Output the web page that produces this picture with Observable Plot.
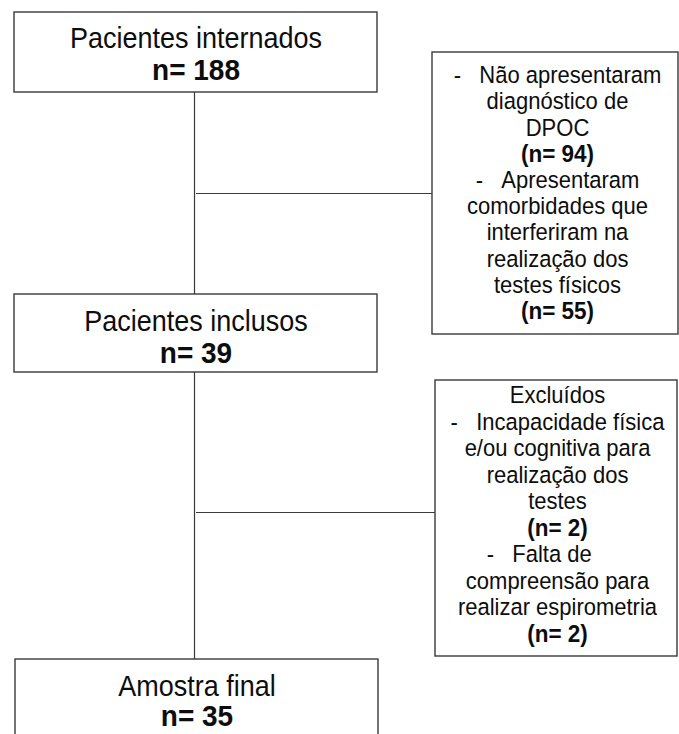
<!DOCTYPE html>
<html>
<head>
<meta charset="utf-8">
<script src="https://cdn.jsdelivr.net/npm/d3@7"></script>
<script src="https://cdn.jsdelivr.net/npm/@observablehq/plot@0.6"></script>
<style>
  html, body { margin: 0; padding: 0; background: #fff; overflow: hidden; }
  #chart svg { display: block; }
</style>
</head>
<body>
<div id="chart"></div>
<script>
// ---- Data ----
const stageLabels = ["Pacientes internados", "Pacientes inclusos", "Amostra final"];
const stageCounts = [188, 39, 35];

const exclusion1Lines = [
  ["-\u00a0\u00a0\u00a0Não apresentaram", "diagnóstico de", "DPOC"],
  ["-\u00a0\u00a0\u00a0Apresentaram", "comorbidades que", "interferiram na", "realização dos", "testes físicos"]
];
const exclusion1Counts = [94, 55];

const exclusion2Title = "Excluídos";
const exclusion2Lines = [
  ["-\u00a0\u00a0\u00a0Incapacidade física", "e/ou cognitiva para", "realização dos", "testes"],
  ["-\u00a0\u00a0\u00a0Falta de\u00a0\u00a0\u00a0\u00a0\u00a0\u00a0", "compreensão para", "realizar espirometria"]
];
const exclusion2Counts = [2, 2];

// ---- Layout ----
const W = 679, H = 734;
const font = "Liberation Sans, Arial, sans-serif";
const stageBoxes = [
  {x1: 14, x2: 377, y1: 12, y2: 92, ty: 38, gap: 32},
  {x1: 14, x2: 377, y1: 294, y2: 372, ty: 321, gap: 32},
  {x1: 15, x2: 378, y1: 659, y2: 760, ty: 686, gap: 30}
];
const sideBoxes = [
  {x1: 432, x2: 678, y1: 52, y2: 334, ty: 75, cy: 193, lh: 26.2},
  {x1: 435, x2: 677, y1: 380, y2: 656, ty: 395, cy: 512, lh: 26.5}
];
const spineX = 194, sideCx = 557;

const boxes = [...stageBoxes, ...sideBoxes];

// stage text
const stageText = [];
stageLabels.forEach((lab, i) => {
  const b = stageBoxes[i];
  stageText.push({x: (b.x1 + b.x2) / 2, y: b.ty, t: lab, bold: false});
  stageText.push({x: (b.x1 + b.x2) / 2, y: b.ty + b.gap, t: `n= ${stageCounts[i]}`, bold: true});
});

// side text
const sideText = [];
function addSide(b, title, groups, counts) {
  let k = 0;
  if (title) sideText.push({x: sideCx, y: b.ty + b.lh * k++, t: title, bold: false});
  groups.forEach((g, gi) => {
    g.forEach(line => sideText.push({x: sideCx, y: b.ty + b.lh * k++, t: line, bold: false}));
    sideText.push({x: sideCx, y: b.ty + b.lh * k++, t: `(n= ${counts[gi]})`, bold: true});
  });
}
addSide(sideBoxes[0], null, exclusion1Lines, exclusion1Counts);
addSide(sideBoxes[1], exclusion2Title, exclusion2Lines, exclusion2Counts);

const connectors = sideBoxes.map(b => ({y: b.cy, x1: spineX + 2, x2: b.x1}));

const stroke = "#3a3a3a";
const ink = "#0d0d0d";

const chart = Plot.plot({
  width: W, height: H, margin: 0,
  x: {domain: [0, W], range: [0, W], axis: null},
  y: {domain: [0, H], range: [0, H], axis: null},
  style: {background: "#fff", fontFamily: font},
  marks: [
    Plot.ruleX([spineX], {y1: stageBoxes[0].y2, y2: stageBoxes[2].y1, stroke, strokeWidth: 1.2}),
    Plot.ruleY(connectors, {y: "y", x1: "x1", x2: "x2", stroke, strokeWidth: 1.2}),
    Plot.rect(boxes, {x1: "x1", x2: "x2", y1: "y1", y2: "y2", fill: "white", stroke, strokeWidth: 1.4}),
    Plot.text(stageText.filter(d => !d.bold), {x: "x", y: "y", text: "t", fontSize: 27, fill: ink, fontFamily: font}),
    Plot.text(stageText.filter(d => d.bold), {x: "x", y: "y", text: "t", fontSize: 28, fontWeight: "bold", fill: ink, fontFamily: font}),
    Plot.text(sideText.filter(d => !d.bold), {x: "x", y: "y", text: "t", fontSize: 22, fill: ink, fontFamily: font}),
    Plot.text(sideText.filter(d => d.bold), {x: "x", y: "y", text: "t", fontSize: 22.5, fontWeight: "bold", fill: ink, fontFamily: font})
  ]
});

// the reference glyphs are slightly taller than they are wide: stretch text vertically
d3.select(chart).selectAll("text").each(function () {
  const el = d3.select(this);
  const tr = el.attr("transform");
  if (tr && /translate/.test(tr)) {
    el.attr("transform", tr + " scale(1,1.08)");
  } else {
    const x = +el.attr("x") || 0, y = +el.attr("y") || 0;
    el.attr("x", null).attr("y", null).attr("transform", `translate(${x},${y}) scale(1,1.08)`);
  }
});

document.getElementById("chart").append(chart);
</script>
</body>
</html>
